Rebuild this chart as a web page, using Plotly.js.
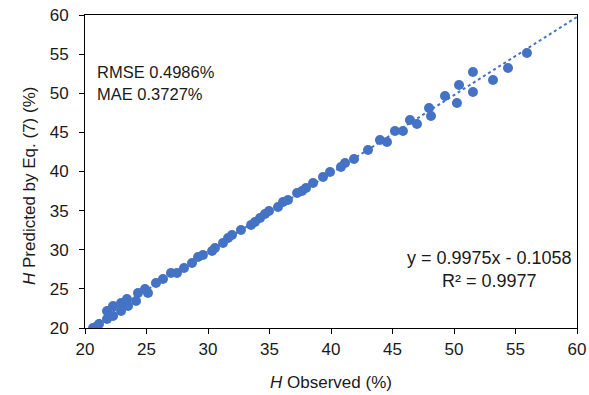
<!DOCTYPE html>
<html>
<head>
<meta charset="utf-8">
<script src="https://cdn.plot.ly/plotly-3.0.1.min.js"></script>
<style>html,body{margin:0;padding:0;background:#fff;}#chart{width:589px;height:395px;}</style>
</head>
<body>
<div id="chart"></div>
<script>
const observed = [20.65,21.14,21.79,22.28,21.79,22.28,22.93,22.93,23.41,23.50,24.15,24.31,24.88,25.12,25.77,26.34,26.99,27.48,28.05,28.70,29.19,29.59,30.33,30.57,31.22,31.63,31.95,32.68,33.50,33.82,34.23,34.63,34.96,35.69,36.10,36.50,37.24,37.64,37.97,38.54,39.35,39.92,40.81,41.14,41.87,43.01,43.98,44.55,45.20,45.85,46.42,46.99,47.97,48.13,49.27,50.24,50.41,51.54,51.54,53.17,54.39,55.93];
const predicted = [20.00,20.51,21.15,21.53,22.17,22.81,22.17,23.19,23.71,22.81,23.45,24.47,24.98,24.47,25.75,26.26,27.03,27.03,27.67,28.31,29.07,29.33,29.84,30.22,30.86,31.50,31.89,32.52,33.16,33.55,34.06,34.57,34.95,35.46,36.10,36.36,37.25,37.51,37.89,38.53,39.30,39.94,40.57,41.09,41.60,42.75,44.03,43.77,45.18,45.18,46.58,46.07,48.12,47.09,49.65,48.75,51.05,50.16,52.72,51.69,53.23,55.14];
const slope = 0.9975, intercept = -0.1058;
const trendX = [20.65, 60];
const trendY = trendX.map(x => slope * x + intercept);
const color = '#4472C4';

const traces = [
  {x: trendX, y: trendY, mode: 'lines', line: {color: color, width: 2, dash: 'dot'}, hoverinfo: 'skip', showlegend: false},
  {x: observed, y: predicted, mode: 'markers', marker: {color: color, size: 10}, showlegend: false}
];
const fam = 'Liberation Sans, Arial, sans-serif';
const txt = '#1a1a1a';
const layout = {
  width: 589, height: 395,
  margin: {l: 85, r: 12, t: 15, b: 67},
  paper_bgcolor: '#fff', plot_bgcolor: '#fff',
  font: {family: fam, size: 17, color: txt},
  showlegend: false,
  xaxis: {range: [20, 60], dtick: 5, tick0: 20, showgrid: false, zeroline: false,
    showline: true, mirror: true, linecolor: '#000', linewidth: 1,
    ticks: 'outside', ticklen: 5, tickcolor: '#000',
    tickfont: {family: fam, size: 17, color: txt}, ticklabelstandoff: 1,
    title: {text: '<i>H</i> Observed (%)', font: {family: fam, size: 17, color: txt}, standoff: 17}},
  yaxis: {range: [20, 60], dtick: 5, tick0: 20, showgrid: false, zeroline: false,
    showline: true, mirror: true, linecolor: '#000', linewidth: 1,
    ticks: 'outside', ticklen: 5, tickcolor: '#000',
    tickfont: {family: fam, size: 17, color: txt}, ticklabelstandoff: 7},
  annotations: [
    {xref: 'paper', yref: 'paper', x: -0.113, y: 0.455, xanchor: 'center', yanchor: 'middle', textangle: -90, text: '<i>H</i> Predicted by Eq. (7) (%)', showarrow: false, font: {family: fam, size: 17, color: txt}},
    {xref: 'paper', yref: 'paper', x: 0.02, y: 0.818, xanchor: 'left', yanchor: 'middle', text: 'RMSE 0.4986%', showarrow: false, font: {family: fam, size: 16.5, color: txt}},
    {xref: 'paper', yref: 'paper', x: 0.02, y: 0.747, xanchor: 'left', yanchor: 'middle', text: 'MAE 0.3727%', showarrow: false, font: {family: fam, size: 16.5, color: txt}},
    {xref: 'paper', yref: 'paper', x: 0.823, y: 0.224, xanchor: 'center', yanchor: 'middle', text: 'y = 0.9975x - 0.1058', showarrow: false, font: {family: fam, size: 18, color: txt}},
    {xref: 'paper', yref: 'paper', x: 0.823, y: 0.150, xanchor: 'center', yanchor: 'middle', text: 'R² = 0.9977', showarrow: false, font: {family: fam, size: 18, color: txt}}
  ]
};
Plotly.newPlot('chart', traces, layout, {displayModeBar: false, staticPlot: true});
</script>
</body>
</html>
